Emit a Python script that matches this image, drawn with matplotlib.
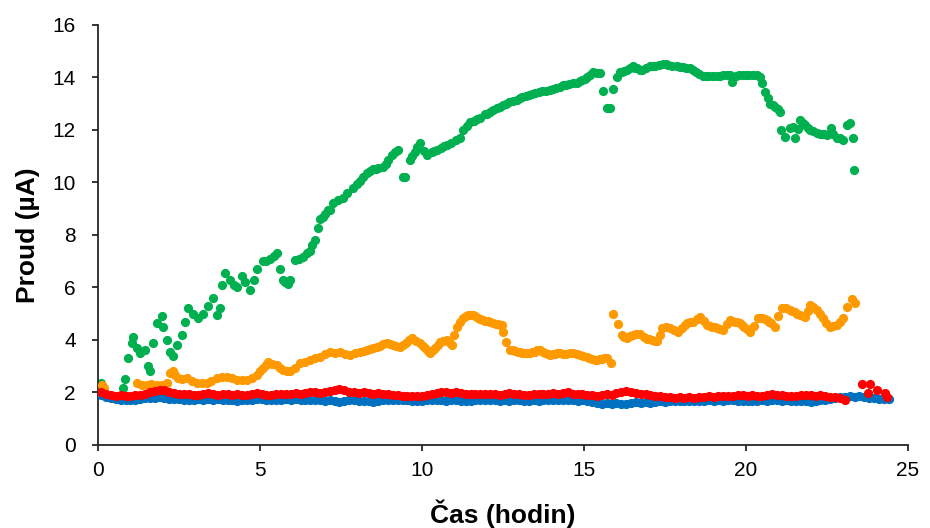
import matplotlib
matplotlib.use("Agg")
import matplotlib.pyplot as plt
import numpy as np

plt.rcParams['font.family'] = ['Liberation Sans', 'DejaVu Sans']

# green series (irregular samples, time in hours, current in uA)
green_x = [0.1, 0.22, 0.77, 0.83, 0.93, 1.05, 1.08, 1.2, 1.3, 1.45, 1.54, 1.6, 1.7, 1.82, 1.97,
           2.0, 2.13, 2.22, 2.3, 2.43, 2.6, 2.7, 2.78, 2.93, 3.09, 3.24, 3.4, 3.55, 3.67, 3.77,
           3.83, 3.92, 4.07, 4.2, 4.29, 4.44, 4.54, 4.69, 4.8, 4.91, 5.09, 5.2, 5.31, 5.42, 5.52,
           5.62, 5.7, 5.77, 5.85, 5.93, 6.08, 6.2, 6.33, 6.45, 6.54, 6.62, 6.7, 6.79, 6.85, 6.93,
           7.0, 7.1, 7.16, 7.25, 7.4, 7.56, 7.7, 7.87, 8.0, 8.1, 8.18, 8.3, 8.4, 8.49, 8.58,
           8.65, 8.8, 8.88, 8.95, 9.07, 9.17, 9.26, 9.4, 9.48, 9.63, 9.7, 9.78, 9.86, 9.94, 10.05,
           10.15, 10.3, 10.38, 10.46, 10.6, 10.68, 10.77, 10.9, 11.05, 11.17, 11.27, 11.38, 11.48, 11.6, 11.7,
           11.79, 11.95, 12.02, 12.1, 12.2, 12.3, 12.4, 12.5, 12.6, 12.7, 12.82, 12.93, 13.02, 13.1, 13.2,
           13.3, 13.4, 13.5, 13.6, 13.7, 13.82, 13.95, 14.05, 14.15, 14.25, 14.35, 14.45, 14.55, 14.66, 14.78,
           14.88, 14.95, 15.02, 15.1, 15.2, 15.28, 15.4, 15.5, 15.59, 15.7, 15.8, 15.9, 16.02, 16.1, 16.18,
           16.25, 16.34, 16.42, 16.5, 16.58, 16.65, 16.73, 16.8, 16.92, 17.04, 17.12, 17.2, 17.32, 17.44, 17.52,
           17.6, 17.72, 17.87, 17.96, 18.05, 18.16, 18.27, 18.36, 18.45, 18.56, 18.67, 18.76, 18.85, 18.97, 19.1,
           19.2, 19.3, 19.4, 19.5, 19.56, 19.7, 19.8, 19.9, 20.0, 20.1, 20.22, 20.34, 20.42, 20.5, 20.59,
           20.68, 20.74, 20.82, 20.9, 20.98, 21.05, 21.08, 21.2, 21.36, 21.45, 21.51, 21.6, 21.67, 21.75, 21.82,
           21.9, 21.98, 22.08, 22.19, 22.27, 22.35, 22.42, 22.5, 22.62, 22.7, 22.81, 22.9, 23.0, 23.12, 23.21,
           23.3, 23.33]
green_y = [2.36, 1.9, 2.17, 2.5, 3.3, 3.9, 4.1, 3.7, 3.5, 3.6, 3.0, 2.8, 3.9, 4.65, 4.9,
           4.5, 4.0, 3.55, 3.4, 3.8, 4.2, 4.7, 5.2, 5.0, 4.85, 5.0, 5.3, 5.6, 4.95, 5.2,
           6.1, 6.55, 6.3, 6.1, 6.0, 6.45, 6.2, 5.9, 6.3, 6.7, 7.0, 7.0, 7.1, 7.2, 7.3,
           6.7, 6.3, 6.2, 6.15, 6.3, 7.05, 7.1, 7.15, 7.3, 7.4, 7.6, 7.8, 8.25, 8.6, 8.7,
           8.8, 8.95, 8.95, 9.2, 9.35, 9.4, 9.6, 9.8, 9.95, 10.05, 10.2, 10.35, 10.42, 10.5, 10.52,
           10.55, 10.6, 10.72, 10.85, 11.05, 11.15, 11.24, 10.2, 10.2, 10.86, 11.0, 11.17, 11.35, 11.5, 11.2,
           11.05, 11.15, 11.2, 11.24, 11.3, 11.38, 11.43, 11.5, 11.6, 11.7, 12.0, 12.15, 12.3, 12.35, 12.4,
           12.45, 12.6, 12.62, 12.7, 12.75, 12.82, 12.88, 12.95, 13.0, 13.05, 13.1, 13.14, 13.2, 13.25, 13.3,
           13.35, 13.38, 13.42, 13.45, 13.48, 13.5, 13.52, 13.56, 13.6, 13.65, 13.7, 13.72, 13.75, 13.78, 13.8,
           13.85, 13.9, 13.95, 14.0, 14.1, 14.2, 14.18, 14.17, 13.5, 12.84, 12.84, 13.56, 14.0, 14.2, 14.22,
           14.25, 14.3, 14.36, 14.43, 14.38, 14.35, 14.3, 14.29, 14.35, 14.43, 14.44, 14.45, 14.48, 14.51, 14.5,
           14.48, 14.45, 14.43, 14.4, 14.4, 14.38, 14.36, 14.3, 14.2, 14.12, 14.05, 14.05, 14.05, 14.06, 14.05,
           14.07, 14.08, 14.1, 14.1, 13.83, 14.05, 14.08, 14.1, 14.08, 14.08, 14.1, 14.1, 14.0, 13.8, 13.45,
           13.2, 13.0, 12.95, 12.88, 12.8, 12.7, 12.0, 11.74, 12.07, 12.1, 11.7, 12.04, 12.38, 12.28, 12.19,
           12.08, 12.0, 11.95, 11.88, 11.86, 11.85, 11.83, 11.81, 12.07, 11.85, 11.7, 11.68, 11.62, 12.19, 12.26,
           11.7, 10.48]

# orange series
orange_x = [0.12, 0.19,
            1.2, 1.35, 1.5, 1.65, 1.82, 1.97, 2.13, 2.22, 2.3, 2.38, 2.47, 2.6, 2.74, 2.9,
            3.05, 3.2, 3.36, 3.5, 3.67, 3.82, 3.98, 4.14, 4.29, 4.45, 4.6, 4.75, 4.91, 5.0, 5.09,
            5.17, 5.25, 5.38, 5.52, 5.62, 5.71, 5.82, 5.93, 6.08, 6.23, 6.38, 6.54, 6.7, 6.85, 7.0,
            7.16, 7.3, 7.47, 7.62, 7.78, 7.93, 8.09, 8.2, 8.3, 8.4, 8.49, 8.6, 8.7, 8.8, 8.92,
            9.0, 9.1, 9.2, 9.32, 9.42, 9.5, 9.6, 9.69, 9.82, 9.94, 10.02, 10.1, 10.18, 10.25, 10.33,
            10.4, 10.48, 10.56, 10.66, 10.77, 10.86, 10.93, 10.99, 11.08, 11.18, 11.27, 11.35, 11.42, 11.5, 11.57,
            11.65, 11.72, 11.8, 11.88, 11.96, 12.03, 12.11, 12.19, 12.27, 12.35, 12.42, 12.47, 12.5, 12.59, 12.72,
            12.8, 12.87, 12.95, 13.02, 13.1, 13.18, 13.25, 13.33, 13.4, 13.48, 13.56, 13.64, 13.72, 13.8, 13.88,
            13.95, 14.03, 14.1, 14.18, 14.26, 14.36, 14.46, 14.56, 14.66, 14.77, 14.88, 14.98, 15.09, 15.17, 15.25,
            15.33, 15.4, 15.48, 15.55, 15.63, 15.71, 15.83,
            15.9, 16.05, 16.17, 16.25, 16.33, 16.42, 16.51, 16.62, 16.73, 16.84, 16.94, 17.02, 17.1, 17.18, 17.25,
            17.35, 17.41, 17.53, 17.65, 17.78, 17.9, 18.04, 18.12, 18.18, 18.28, 18.36, 18.48, 18.58, 18.7, 18.8,
            18.88, 18.95, 19.03, 19.1, 19.2, 19.29, 19.4, 19.5, 19.58, 19.65, 19.73, 19.81, 19.88, 19.95, 20.04,
            20.12, 20.25, 20.37, 20.44, 20.5, 20.58, 20.65, 20.72, 20.78, 20.9, 20.99, 21.11, 21.23, 21.36, 21.43,
            21.5, 21.58, 21.67, 21.75, 21.82, 21.9, 21.98, 22.08, 22.19, 22.28, 22.38, 22.48, 22.59, 22.7, 22.81,
            22.9, 23.0, 23.12, 23.27, 23.36]
orange_y = [2.3, 2.17,
            2.36, 2.3, 2.29, 2.32, 2.29, 2.3, 2.36, 2.74, 2.8, 2.65, 2.55, 2.52, 2.55, 2.45,
            2.36, 2.35, 2.36, 2.45, 2.55, 2.58, 2.6, 2.55, 2.48, 2.46, 2.48, 2.55, 2.67, 2.8, 2.93,
            3.05, 3.16, 3.1, 3.05, 2.95, 2.86, 2.82, 2.8, 2.95, 3.12, 3.18, 3.24, 3.3, 3.35, 3.45,
            3.54, 3.52, 3.54, 3.48, 3.43, 3.5, 3.54, 3.57, 3.6, 3.65, 3.69, 3.73, 3.78, 3.83, 3.88,
            3.85, 3.8, 3.76, 3.73, 3.8, 3.9, 4.0, 4.07, 3.98, 3.88, 3.78, 3.7, 3.58, 3.5, 3.6,
            3.7, 3.82, 3.92, 3.97, 4.0, 3.9, 3.8, 4.19, 4.5, 4.7, 4.84, 4.9, 4.95, 4.97, 4.95,
            4.9, 4.85, 4.8, 4.76, 4.74, 4.72, 4.68, 4.65, 4.62, 4.6, 4.58, 4.57, 4.3, 3.92, 3.62,
            3.6, 3.58, 3.55, 3.54, 3.52, 3.5, 3.52, 3.5, 3.53, 3.55, 3.6, 3.62, 3.56, 3.5, 3.45,
            3.43, 3.46, 3.48, 3.5, 3.5, 3.48, 3.48, 3.5, 3.5, 3.45, 3.42, 3.38, 3.35, 3.3, 3.28,
            3.25, 3.24, 3.26, 3.27, 3.3, 3.31, 3.12,
            5.0, 4.6, 4.19, 4.12, 4.08, 4.14, 4.19, 4.24, 4.23, 4.12, 4.04, 4.02, 4.0, 3.98, 3.96,
            4.2, 4.46, 4.48, 4.46, 4.38, 4.3, 4.45, 4.58, 4.65, 4.68, 4.69, 4.8, 4.88, 4.72, 4.57,
            4.52, 4.5, 4.48, 4.46, 4.42, 4.38, 4.6, 4.76, 4.72, 4.7, 4.68, 4.65, 4.58, 4.5, 4.4,
            4.3, 4.55, 4.84, 4.83, 4.82, 4.8, 4.76, 4.7, 4.65, 4.5, 4.91, 5.22, 5.2, 5.14, 5.1,
            5.05, 5.0, 4.95, 4.92, 4.88, 5.1, 5.33, 5.25, 5.14, 5.0, 4.84, 4.65, 4.5, 4.53, 4.57,
            4.7, 4.84, 5.26, 5.56, 5.41]

# red series, sampled every 0.15 h from 0.1 h
red_t0 = 0.1
red_dt = 0.15
red_y = [2.02, 1.95, 1.92, 1.88, 1.9, 1.86, 1.88, 1.92, 1.89, 1.95,
         2.0, 2.04, 2.08, 2.1, 2.03, 1.97, 1.95, 1.93, 1.96, 1.92,
         1.9, 1.94, 1.97, 1.95, 1.92, 1.96, 1.93, 1.9, 1.93, 1.89,
         1.91, 1.95, 1.97, 1.93, 1.9, 1.92, 1.95, 1.93, 1.96, 1.94,
         1.97, 1.95, 1.98, 2.0, 2.03, 1.99, 2.02, 2.06, 2.1, 2.12,
         2.08, 2.03, 2.0, 1.97, 2.0, 1.98, 1.95, 1.99, 1.96, 1.93,
         1.92, 1.9, 1.88, 1.86, 1.88, 1.85, 1.87, 1.9, 1.94, 1.97,
         2.0, 2.03, 1.99, 2.02, 1.97, 1.95, 1.93, 1.96, 1.94, 1.95,
         1.93, 1.96, 1.92, 1.94, 1.97, 1.93, 1.95, 1.92, 1.9, 1.93,
         1.95, 1.93, 1.96, 1.98, 1.95, 1.97, 2.0, 1.96, 1.93, 1.95,
         1.92, 1.9, 1.88, 1.91, 1.94, 1.92, 1.97, 2.02, 2.05, 2.0,
         1.97, 1.95, 1.93, 1.9, 1.88, 1.86, 1.84, 1.82, 1.8, 1.81,
         1.79, 1.82, 1.8, 1.83, 1.82, 1.85, 1.83, 1.86, 1.85, 1.88,
         1.86, 1.89, 1.9, 1.87, 1.9, 1.88, 1.86, 1.9, 1.93, 1.92,
         1.89, 1.87, 1.85, 1.88, 1.9, 1.92, 1.89, 1.87, 1.9, 1.86,
         1.84, 1.82, 1.78, 1.72]
red_extra_x = [23.58, 23.83, 23.77, 24.04, 24.29, 24.35]
red_extra_y = [2.32, 2.32, 1.98, 2.1, 1.98, 1.83]

# blue series, sampled every 0.15 h from 0.1 h
blue_t0 = 0.1
blue_dt = 0.15
blue_y = [1.9, 1.82, 1.78, 1.75, 1.73, 1.72, 1.7, 1.72, 1.75, 1.78,
          1.8, 1.79, 1.82, 1.78, 1.75, 1.74, 1.76, 1.73, 1.7, 1.72,
          1.74, 1.72, 1.75, 1.73, 1.76, 1.72, 1.7, 1.72, 1.69, 1.71,
          1.7, 1.73, 1.76, 1.74, 1.72, 1.7, 1.73, 1.71, 1.74, 1.72,
          1.75, 1.72, 1.7, 1.73, 1.71, 1.7, 1.68, 1.7, 1.67, 1.65,
          1.67, 1.7, 1.72, 1.68, 1.66, 1.68, 1.65, 1.68, 1.7, 1.72,
          1.7, 1.73, 1.72, 1.7, 1.68, 1.66, 1.69, 1.72, 1.7, 1.73,
          1.71, 1.69, 1.72, 1.7, 1.68, 1.66, 1.69, 1.71, 1.73, 1.7,
          1.72, 1.7, 1.69, 1.71, 1.68, 1.7, 1.72, 1.69, 1.67, 1.7,
          1.68, 1.7, 1.72, 1.7, 1.73, 1.71, 1.7, 1.72, 1.69, 1.7,
          1.68, 1.64, 1.6, 1.58, 1.6, 1.57, 1.59, 1.56, 1.58, 1.6,
          1.62, 1.6, 1.63, 1.61, 1.64, 1.66, 1.64, 1.67, 1.68, 1.66,
          1.68, 1.66, 1.69, 1.67, 1.68, 1.7, 1.68, 1.7, 1.69, 1.71,
          1.7, 1.68, 1.66, 1.69, 1.67, 1.68, 1.7, 1.69, 1.71, 1.7,
          1.68, 1.7, 1.67, 1.69, 1.66, 1.68, 1.65, 1.67, 1.7, 1.72,
          1.75, 1.78, 1.82, 1.84, 1.86, 1.83, 1.85, 1.82, 1.8, 1.78,
          1.77, 1.76, 1.75]

red_x = red_t0 + red_dt * np.arange(len(red_y))
blue_x = blue_t0 + blue_dt * np.arange(len(blue_y))

fig = plt.figure(figsize=(9.3, 5.28), dpi=100)
ax = fig.add_axes([0.1054, 0.1572, 0.8709, 0.7955])

ms = 44
ax.scatter(green_x, green_y, s=ms, color="#00B050", linewidths=0, zorder=2)
ax.scatter(orange_x, orange_y, s=ms, color="#FF9900", linewidths=0, zorder=3)
ax.scatter(blue_x, blue_y, s=ms, color="#0070C0", linewidths=0, zorder=4)
ax.scatter(red_x, red_y, s=ms, color="#FF0000", linewidths=0, zorder=5)
ax.scatter(red_extra_x, red_extra_y, s=ms, color="#FF0000", linewidths=0, zorder=5)

ax.set_xlim(0, 25)
ax.set_ylim(0, 16)
ax.set_xticks([0, 5, 10, 15, 20, 25])
ax.set_yticks([0, 2, 4, 6, 8, 10, 12, 14, 16])
for s in ["top", "right"]:
    ax.spines[s].set_visible(False)
for s in ["left", "bottom"]:
    ax.spines[s].set_color("#262626")
    ax.spines[s].set_linewidth(1.3)
ax.tick_params(direction="out", length=4.5, width=1.3, color="#262626", labelsize=15)
ax.tick_params(axis="x", pad=7)
ax.tick_params(axis="y", pad=11.5)
ax.set_xlabel("Čas (hodin)", fontsize=19, fontweight="bold", labelpad=14)
ax.set_ylabel("Proud (µA)", fontsize=19, fontweight="bold", labelpad=9)

fig.savefig("out.png", dpi=100)
